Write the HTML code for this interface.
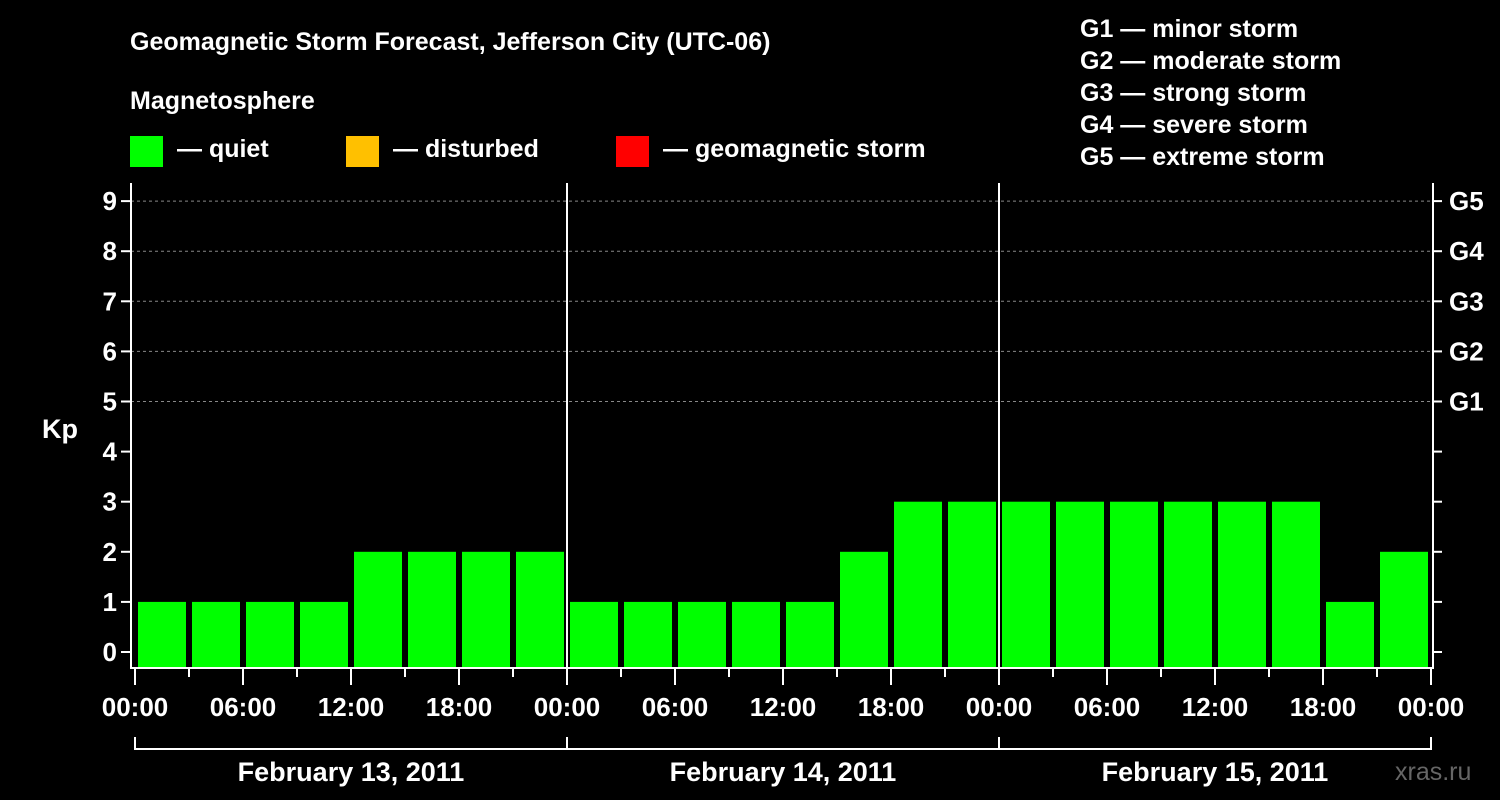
<!DOCTYPE html>
<html><head><meta charset="utf-8"><style>
html,body{margin:0;padding:0;background:#000;}
svg{display:block;font-family:"Liberation Sans",Arial,sans-serif;font-weight:bold;}
</style></head><body>
<svg id="chart" width="1500" height="800" viewBox="0 0 1500 800">
<rect width="1500" height="800" fill="#000"/>
<text x="130" y="50" fill="#fff" font-size="25">Geomagnetic Storm Forecast, Jefferson City (UTC-06)</text>
<text x="130" y="109" fill="#fff" font-size="25">Magnetosphere</text>
<g><rect x="130" y="136" width="33" height="31" fill="#00ff00"/><text x="177" y="157" fill="#fff" font-size="25">— quiet</text></g>
<g><rect x="346" y="136" width="33" height="31" fill="#ffc000"/><text x="393" y="157" fill="#fff" font-size="25">— disturbed</text></g>
<g><rect x="616" y="136" width="33" height="31" fill="#ff0000"/><text x="663" y="157" fill="#fff" font-size="25">— geomagnetic storm</text></g>
<g fill="#fff" font-size="25">
<text x="1080" y="37">G1 — minor storm</text>
<text x="1080" y="69">G2 — moderate storm</text>
<text x="1080" y="101">G3 — strong storm</text>
<text x="1080" y="133">G4 — severe storm</text>
<text x="1080" y="165">G5 — extreme storm</text>
</g>
<text x="42" y="438" fill="#fff" font-size="27">Kp</text>
<text x="1395" y="780" fill="#666" font-size="25" font-weight="normal">xras.ru</text>
<g id="grid"></g><g id="bars"></g><g id="axes"></g>
</svg>
<script>
const days = ["February 13, 2011","February 14, 2011","February 15, 2011"];
const kpValues = [1,1,1,1,2,2,2,2, 1,1,1,1,1,2,3,3, 3,3,3,3,3,3,1,2];
const yTicks = [0,1,2,3,4,5,6,7,8,9];
const gLabels = ["G1","G2","G3","G4","G5"];
const timeLabels = ["00:00","06:00","12:00","18:00"];

const NS="http://www.w3.org/2000/svg";
const x0=135, pxPerHour=18, yZero=652, pxPerKp=50.1, axisBottom=668, axisTop=183, leftAxis=131, rightAxis=1433;
const xs = h => x0 + h*pxPerHour;
const ys = v => yZero - v*pxPerKp;
function mk(tag, attrs, parent){const e=document.createElementNS(NS,tag);for(const k in attrs)e.setAttribute(k,attrs[k]);parent.appendChild(e);return e;}
const grid=document.getElementById('grid'), bars=document.getElementById('bars'), axes=document.getElementById('axes');

yTicks.forEach(v=>{
  if(v>=5){const l=mk('line',{x1:leftAxis,x2:rightAxis,y1:ys(v),y2:ys(v),stroke:'#888','stroke-dasharray':'3,3','stroke-width':1},grid);
    
    }
  const t=mk('line',{x1:leftAxis-10,x2:leftAxis,y1:ys(v),y2:ys(v),stroke:'#fff','stroke-width':2},axes);
  
  
  const t2=mk('line',{x1:rightAxis,x2:rightAxis+9,y1:ys(v),y2:ys(v),stroke:'#fff','stroke-width':2},axes);
  
  
  const lb=mk('text',{x:leftAxis-14,y:ys(v)+9,fill:'#fff','font-size':26,'text-anchor':'end'},axes);
  lb.textContent=v;
  
  
});
gLabels.forEach((g,i)=>{
  const lb=mk('text',{x:1449,y:ys(5+i)+9,fill:'#fff','font-size':26},axes);
  lb.textContent=g;
  
  
});
kpValues.forEach((v,i)=>{
  const b=mk('rect',{x:xs(i*3)+3,y:ys(v),width:48,height:axisBottom-ys(v),fill:'#00ff00'},bars);
  
  
});
const frame=mk('path',{d:`M${leftAxis},${axisTop}V${axisBottom}H${rightAxis}V${axisTop}`,stroke:'#fff','stroke-width':2,fill:'none'},axes);


const totalH=days.length*24;
for(let h=0;h<=totalH;h+=3){
  const major=h%6===0;
  const tk=mk('line',{x1:xs(h),x2:xs(h),y1:axisBottom,y2:axisBottom+(major?17:9),stroke:'#fff','stroke-width':2},axes);
  
  
  if(major){
    const lb=mk('text',{x:xs(h),y:716,fill:'#fff','font-size':26,'text-anchor':'middle'},axes);
    lb.textContent=timeLabels[(h/6)%4];
    
    
  }
}
days.forEach((d,i)=>{
  if(i>0){const s=mk('line',{x1:xs(i*24),x2:xs(i*24),y1:axisTop,y2:axisBottom,stroke:'#fff','stroke-width':2},axes);
    
    }
  const br=mk('path',{d:`M${xs(i*24)},737V749H${xs(i*24+24)}`+(i===days.length-1?'V737':''),stroke:'#fff','stroke-width':2,fill:'none'},axes);
  
  
  const lb=mk('text',{x:xs(i*24+12),y:781,fill:'#fff','font-size':27,'text-anchor':'middle'},axes);
  lb.textContent=d;
  
  
});
</script>
</body></html>
